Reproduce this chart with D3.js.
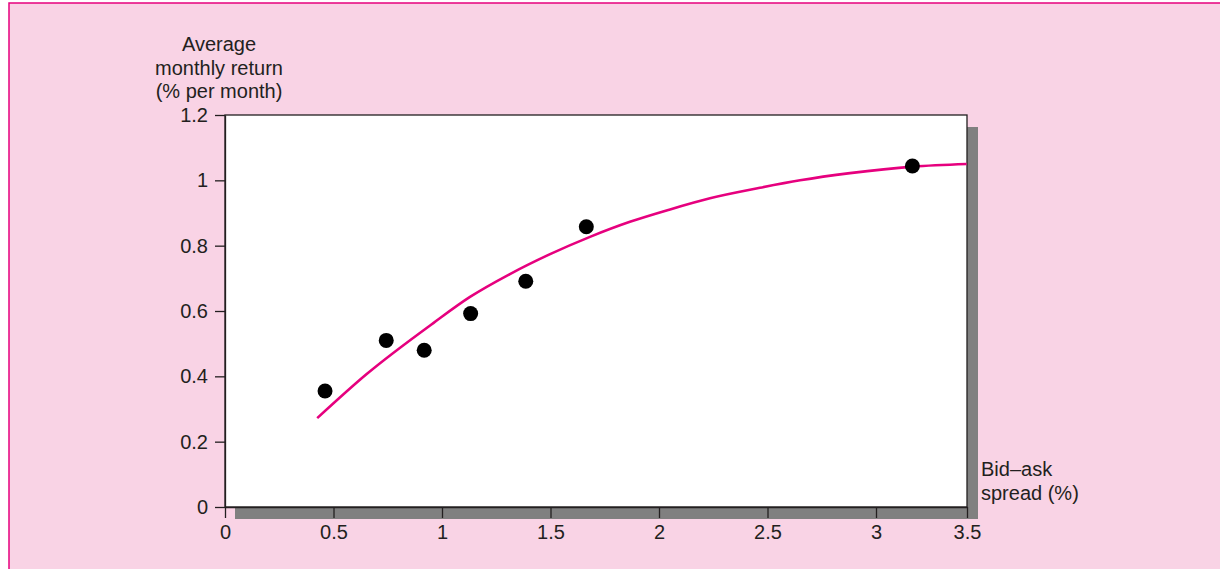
<!DOCTYPE html>
<html>
<head>
<meta charset="utf-8">
<script src="https://cdn.jsdelivr.net/npm/d3@7"></script>
<style>
  html, body { margin: 0; padding: 0; background: #ffffff; }
  svg { display: block; }
  text { font-family: "Liberation Sans", Arial, Helvetica, sans-serif; fill: #231f20; }
</style>
</head>
<body>
<svg id="chart" width="1220" height="569"></svg>
<script>
// ---- data ----
const spreadValues = [0.461, 0.743, 0.918, 1.132, 1.386, 1.665, 3.200];
const returnValues = [0.355, 0.510, 0.480, 0.592, 0.691, 0.858, 1.044];

const curveSpread = [0.425, 0.653, 0.960, 1.129, 1.313, 1.498, 1.682, 1.866, 2.051, 2.235, 2.465, 2.650, 2.880, 3.203, 3.498];
const curveReturn = [0.272, 0.407, 0.563, 0.643, 0.713, 0.774, 0.827, 0.873, 0.911, 0.945, 0.977, 1.000, 1.022, 1.042, 1.050];

const xTickValues = [0, 0.5, 1, 1.5, 2, 2.5, 3, 3.5];
const xTickLabels = ["0", "0.5", "1", "1.5", "2", "2.5", "3", "3.5"];
const yTickValues = [0, 0.2, 0.4, 0.6, 0.8, 1, 1.2];
const yTickLabels = ["0", "0.2", "0.4", "0.6", "0.8", "1", "1.2"];

const yTitleLines = ["Average", "monthly return", "(% per month)"];
const xTitleLines = ["Bid\u2013ask", "spread (%)"];

// ---- layout ----
const svg = d3.select("#chart");
const plotL = 225, plotR = 967, plotT = 115, plotB = 507;
// the printed axis is slightly uneven: last interval (3 to 3.5) is shorter
const x = d3.scaleLinear().domain([0, 3, 3.5]).range([plotL, 876, plotR]);
const y = d3.scaleLinear().domain([0, 1.2]).range([plotB, plotT]);
const magenta = "#e6007e";
const ink = "#231f20";

// panel
svg.append("rect")
  .attr("x", 9).attr("y", 3).attr("width", 1220).attr("height", 580)
  .attr("fill", "#f9d3e5").attr("stroke", magenta).attr("stroke-width", 1.5);

// shadow
svg.append("rect")
  .attr("x", plotL + 10).attr("y", plotT + 12)
  .attr("width", plotR - plotL + 1).attr("height", plotB - plotT)
  .attr("fill", "#808080");

// plot area
svg.append("rect")
  .attr("x", plotL).attr("y", plotT)
  .attr("width", plotR - plotL).attr("height", plotB - plotT)
  .attr("fill", "#ffffff").attr("stroke", ink).attr("stroke-width", 1.3);

// fitted curve
const line = d3.line()
  .x((d, i) => x(curveSpread[i]))
  .y((d, i) => y(curveReturn[i]))
  .curve(d3.curveMonotoneX);
svg.append("path")
  .datum(curveSpread)
  .attr("d", line)
  .attr("fill", "none")
  .attr("stroke", magenta)
  .attr("stroke-width", 2.6);

// points
svg.append("g").selectAll("circle")
  .data(spreadValues)
  .join("circle")
  .attr("cx", (d) => x(d))
  .attr("cy", (d, i) => y(returnValues[i]))
  .attr("r", 7.5)
  .attr("fill", "#000000");

// axes
const xAxis = d3.axisBottom(x)
  .tickValues(xTickValues)
  .tickFormat((d, i) => xTickLabels[i])
  .tickSize(11).tickSizeOuter(0).tickPadding(7);
const gx = svg.append("g").attr("transform", `translate(0,${plotB})`).call(xAxis);

const yAxis = d3.axisLeft(y)
  .tickValues(yTickValues)
  .tickFormat((d, i) => yTickLabels[i])
  .tickSize(10).tickSizeOuter(0).tickPadding(7);
const gy = svg.append("g").attr("transform", `translate(${plotL},0)`).call(yAxis);

[gx, gy].forEach(g => {
  g.select(".domain").attr("stroke", ink).attr("stroke-width", 1.3);
  g.selectAll(".tick line").attr("stroke", ink).attr("stroke-width", 1.3);
  g.selectAll(".tick text")
    .attr("font-size", 20)
    .attr("font-family", "'Liberation Sans', Arial, Helvetica, sans-serif")
    .attr("fill", ink);
});

// titles
svg.append("text")
  .attr("text-anchor", "middle")
  .attr("font-size", 20)
  .selectAll("tspan")
  .data(yTitleLines)
  .join("tspan")
  .attr("x", 219)
  .attr("y", (d, i) => 51 + i * 23.5)
  .text(d => d);

svg.append("text")
  .attr("text-anchor", "start")
  .attr("font-size", 20)
  .selectAll("tspan")
  .data(xTitleLines)
  .join("tspan")
  .attr("x", 981)
  .attr("y", (d, i) => 476 + i * 24)
  .text(d => d);
</script>
</body>
</html>
